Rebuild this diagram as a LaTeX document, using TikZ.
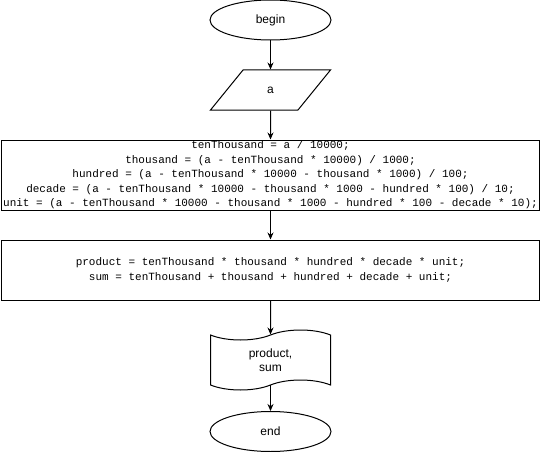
\documentclass[tikz,border=0pt]{standalone}
\usepackage{fontspec}
\setmainfont{Liberation Sans}
\setmonofont{Liberation Mono}
\usetikzlibrary{shapes.geometric,shapes.symbols,arrows.meta}

\tikzset{
  terminal/.style={draw, ellipse, minimum width=121pt, minimum height=40pt, inner sep=0pt, font=\fontsize{12}{14}\selectfont},
  iobox/.style={draw, trapezium, trapezium left angle=59, trapezium right angle=121, trapezium stretches=true, minimum width=120pt, minimum height=40pt, inner sep=0pt, font=\fontsize{12}{14}\selectfont},
  process/.style={draw, rectangle, minimum width=538pt, inner sep=0pt, align=center, font=\fontsize{11}{14.5}\selectfont\ttfamily},
  printout/.style={draw, tape, tape bend height=10pt, minimum width=120pt, minimum height=60pt, inner sep=0pt, align=center, font=\fontsize{12}{14}\selectfont},
  flow/.style={-{Stealth[length=7pt,width=6pt]}}
}

\begin{document}
\begin{tikzpicture}[x=1pt,y=-1pt,line width=1pt]
	\useasboundingbox (0,0) rectangle (541,452);
	\node[terminal] (begin) at (270.5,20) {begin};
	\node[iobox] (input) at (270.5,90) {a};
	\node[process, minimum height=70pt] (digits) at (270.5,175) {tenThousand = a / 10000;\\
		thousand = (a - tenThousand * 10000) / 1000;\\
		hundred = (a - tenThousand * 10000 - thousand * 1000) / 100;\\
		decade = (a - tenThousand * 10000 - thousand * 1000 - hundred * 100) / 10;\\
		unit = (a - tenThousand * 10000 - thousand * 1000 - hundred * 100 - decade * 10);};
	\node[process, minimum height=60pt] (calc) at (270.5,270) {product = tenThousand * thousand * hundred * decade * unit;\\
		sum = tenThousand + thousand + hundred + decade + unit;};
	\node[printout] (result) at (270.5,360) {product,\\sum};
	\node[terminal] (end) at (270.5,431.5) {end};
	% connectors
	\draw[flow] (begin) -- (input);
	\draw[flow] (input) -- (digits);
	\draw[flow] (digits) -- (calc);
	\draw[flow] (calc) -- (result);
	\draw[flow] (result.south) -- (end.north);
\end{tikzpicture}
\end{document}
